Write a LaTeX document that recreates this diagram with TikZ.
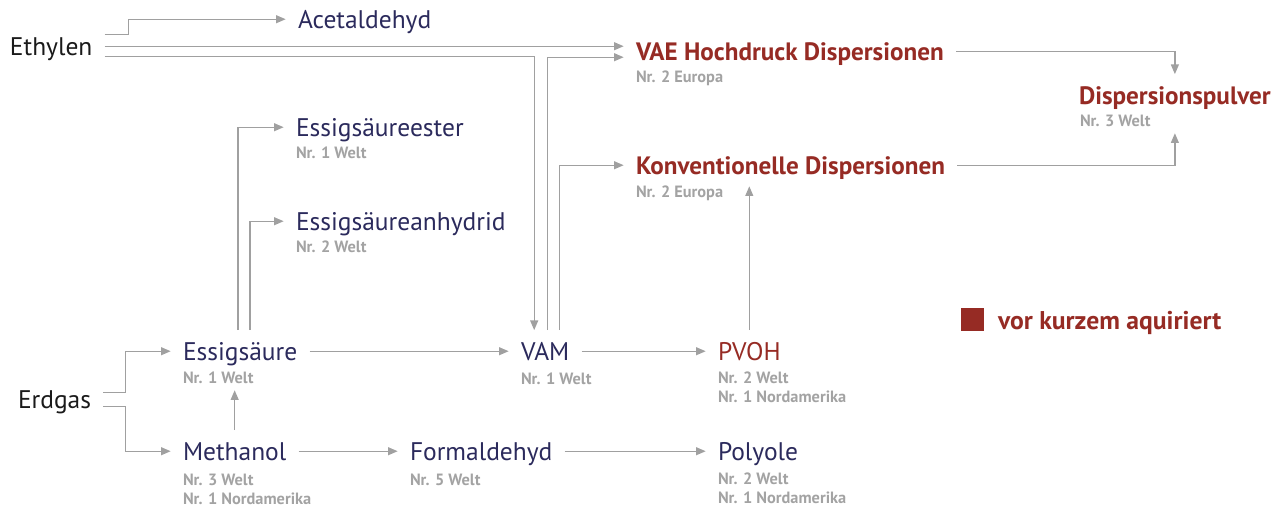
\documentclass[tikz,border=0pt]{standalone}
\usepackage{fontspec}
\setmainfont{PT Sans}
\usetikzlibrary{arrows.meta}
\definecolor{prodblue}{HTML}{2B2A5C}
\definecolor{acqred}{HTML}{962B24}
\definecolor{notegray}{HTML}{A3A3A3}
\definecolor{linegray}{HTML}{A0A0A0}
\definecolor{rawblack}{HTML}{1A1A1A}
\begin{document}
\begin{tikzpicture}[x=0.02cm, y=-0.02cm,
    prod/.style={anchor=text, inner sep=0pt, outer sep=7pt, text height=10pt, text depth=0pt,
        font=\fontsize{14.5}{17}\selectfont, text=prodblue},
    raw/.style={prod, text=rawblack},
    acq/.style={prod, text=acqred},
    acqbold/.style={acq, font=\bfseries\fontsize{14.3}{17}\selectfont},
    note/.style={anchor=text, inner sep=0pt, outer sep=4pt, align=left,
        font=\bfseries\fontsize{9.3}{10.3}\selectfont, text=notegray},
    flow/.style={draw=linegray, line width=0.75pt, -{Triangle[length=5.5pt, width=4.5pt]}}]
    \useasboundingbox (0,0) rectangle (1286,508);

    % Raw materials
    \node[raw] (ethylen) at (10,55) {Ethylen};
    \node[raw] (erdgas) at (18,408) {Erdgas};

    % Products
    \node[prod] (acet) at (298,28) {Acetaldehyd};
    \node[acqbold] (vae) at (636,60) {VAE Hochdruck Dispersionen};
    \node[note] (vaesub) at (636,82) {Nr. 2 Europa};
    \node[acqbold] (disp) at (1079,104) {Dispersionspulver};
    \node[note] (dispsub) at (1080,126) {Nr. 3 Welt};
    \node[acqbold] (konv) at (636,174) {Konventionelle Dispersionen};
    \node[note] (konvsub) at (636,197) {Nr. 2 Europa};
    \node[prod] (ester) at (296,136) {Essigsäureester};
    \node[note] (estersub) at (296,158) {Nr. 1 Welt};
    \node[prod] (anhy) at (296,230) {Essigsäureanhydrid};
    \node[note] (anhysub) at (296,252) {Nr. 2 Welt};
    \node[prod] (essig) at (183,360) {Essigsäure};
    \node[note] (essigsub) at (183,383) {Nr. 1 Welt};
    \node[prod] (vam) at (521,360) {VAM};
    \node[note] (vamsub) at (521,384) {Nr. 1 Welt};
    \node[acq] (pvoh) at (718,360) {PVOH};
    \node[note] (pvohsub) at (718,402) {Nr. 2 Welt\\Nr. 1 Nordamerika};
    \node[prod] (meth) at (183,460) {Methanol};
    \node[note] (methsub) at (183,504) {Nr. 3 Welt\\Nr. 1 Nordamerika};
    \node[prod] (form) at (410,460) {Formaldehyd};
    \node[note] (formsub) at (410,485) {Nr. 5 Welt};
    \node[prod] (poly) at (718,460) {Polyole};
    \node[note] (polysub) at (718,503) {Nr. 2 Welt\\Nr. 1 Nordamerika};

    % Legend
    \node[fill=acqred, inner sep=0pt, minimum size=0.46cm, anchor=north west] (legbox) at (961,308) {};
    \node[acqbold, anchor=text, font=\bfseries\fontsize{14.6}{17}\selectfont] (legtext) at (998,329) {vor kurzem aquiriert};

    % Ethylen
    \draw[flow] ([yshift=0.24cm]ethylen.east) -- ++(24,0) |- (acet.west);
    \draw[flow] (ethylen.east) -- (ethylen.east -| vae.west);
    \draw[flow] ([yshift=-0.2cm]ethylen.east) -| ([xshift=-0.22cm]vam.north);

    % Dispersions
    \draw[flow] ([xshift=0.04cm]vam.north) |- ([yshift=-0.12cm]vae.west);
    \draw[flow] ([xshift=0.28cm]vam.north) |- (konv.west);
    \draw[flow] (vae.east) -| (disp.north);
    \draw[flow] (konv.east) -| (disp.south |- dispsub.south);
    \draw[flow] (pvoh.north) -- (pvoh.north |- konv.south);

    % Essigsäure
    \draw[flow] ([xshift=-0.04cm]essig.north) |- (ester.west);
    \draw[flow] ([xshift=0.2cm]essig.north) |- (anhy.west);
    \draw[flow] (essig.east) -- (vam.west);
    \draw[flow] (vam.east) -- (pvoh.west);

    % Erdgas
    \draw[flow] ([yshift=0.14cm]erdgas.east) -- ++(22,0) |- (essig.west);
    \draw[flow] ([yshift=-0.14cm]erdgas.east) -- ++(22,0) |- (meth.west);
    \draw[flow] (meth.north) -- (meth.north |- essigsub.south);
    \draw[flow] (meth.east) -- (form.west);
    \draw[flow] (form.east) -- (poly.west);
\end{tikzpicture}
\end{document}
